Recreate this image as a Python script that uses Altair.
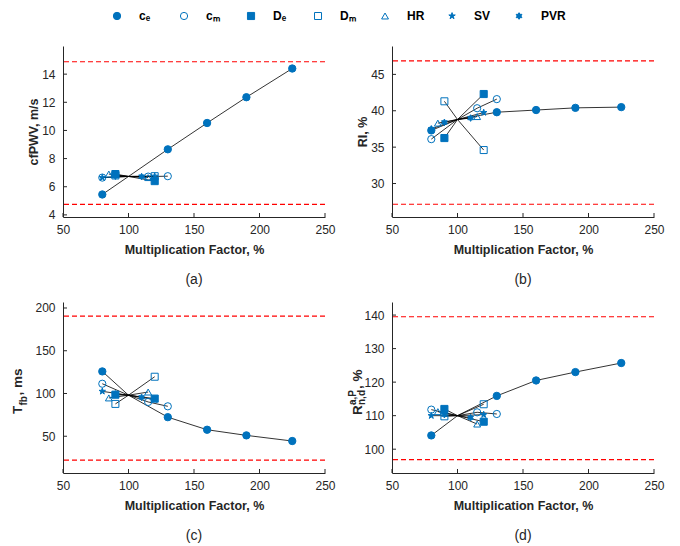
import altair as alt
import pandas as pd

BLUE = "#0072BD"
AX = "#262626"
FONT = "Liberation Sans"

SERIES = ["cₑ", "cₘ", "Dₑ", "Dₘ", "HR", "SV", "PVR"]

# multiplication factors (%) for each parameter
mf_ce = [80, 130, 160, 190, 225]
mf_cm = [80, 115, 130]
mf_De = [90, 120]
mf_Dm = [90, 120]
mf_HR = [85, 115]
mf_SV = [80, 120]
mf_PVR = [90, 110]
MF = [mf_ce, mf_cm, mf_De, mf_Dm, mf_HR, mf_SV, mf_PVR]
BASE_MF = 100

# (a) cfPWV, m/s
cfpwv_base = 6.73
cfpwv = [[5.45, 8.66, 10.53, 12.36, 14.4], [6.65, 6.72, 6.75], [6.9, 6.4],
         [6.8, 6.75], [6.9, 6.65], [6.65, 6.75], [6.75, 6.72]]
# (b) RI, %
ri_base = 38.8
ri = [[37.3, 39.8, 40.1, 40.4, 40.5], [36.1, 40.35, 41.6], [36.25, 42.3],
      [41.3, 34.6], [38.3, 39.2], [37.5, 39.75], [38.4, 39.0]]
# (c) Tfb, ms
tfb_base = 98.0
tfb = [[125.8, 72.3, 57.6, 51.0, 44.4], [111.4, 90.1, 85.0], [98.6, 94.0],
       [87.8, 119.6], [94.8, 101.7], [102.5, 92.8], [99.5, 95.5]]
# (d) R, %
r_base = 110.0
rr = [[104.1, 115.9, 120.5, 123.0, 125.7], [111.8, 111.0, 110.5], [112.0, 108.2],
      [109.8, 113.4], [111.2, 107.5], [110.0, 110.3], [110.3, 109.4]]

# reference limits (red dashed)
lim_a = [4.75, 14.88]
lim_b = [27.15, 46.86]
lim_c = [22.0, 190.5]
lim_d = [96.9, 139.5]

XTICKS = [50, 100, 150, 200, 250]
yt_a = [4, 6, 8, 10, 12, 14]
yt_b = [30, 35, 40, 45]
yt_c = [50, 100, 150, 200]
yt_d = [100, 110, 120, 130, 140]

W, H = 262, 171

STAR = ("M0,-1L0.2245,-0.309L0.951,-0.309L0.363,0.118L0.588,0.809L0,0.382"
        "L-0.588,0.809L-0.363,0.118L-0.951,-0.309L-0.2245,-0.309Z")
HEX = ("M0,-1L0.2887,-0.5L0.866,-0.5L0.577,0L0.866,0.5L0.2887,0.5L0,1"
       "L-0.2887,0.5L-0.866,0.5L-0.577,0L-0.866,-0.5L-0.2887,-0.5Z")

shape_enc = alt.Shape("series:N", scale=alt.Scale(
    domain=SERIES, range=["circle", "circle", "square", "square", "triangle-up", STAR, HEX]),
    legend=None)
fill_enc = alt.Fill("series:N", scale=alt.Scale(
    domain=SERIES, range=[BLUE, "transparent", BLUE, "transparent", "transparent", BLUE, BLUE]),
    legend=None)
stroke_enc = alt.Stroke("series:N", scale=alt.Scale(domain=SERIES, range=[BLUE] * 7),
                        legend=None)
size_enc = alt.Size("series:N", scale=alt.Scale(
    domain=SERIES, range=[54, 44, 38, 32, 46, 75, 36]), legend=None)

one = pd.DataFrame({"k": [0]})


def panel(vals, base, ydom, yticks, lims, caption, ytitle=None, parts=None):
    pts, lns = [], []
    for s, mfs, vs in zip(SERIES, MF, vals):
        for m, v in zip(mfs, vs):
            pts.append({"series": s, "mf": m, "y": v})
            lns.append({"series": s, "mf": m, "y": v})
        lns.append({"series": s, "mf": BASE_MF, "y": base})
    pts = pd.DataFrame(pts)
    lns = pd.DataFrame(lns)

    x_enc = alt.X("mf:Q", scale=alt.Scale(domain=[50, 250], nice=False, zero=False),
                  axis=alt.Axis(values=XTICKS, title="Multiplication Factor, %",
                                labelPadding=7, titlePadding=8, labelFlush=False))
    y_enc = alt.Y("y:Q", scale=alt.Scale(domain=ydom, nice=False, zero=False),
                  axis=alt.Axis(values=yticks, title=ytitle, labelPadding=8, titlePadding=1))

    red = alt.Chart(pd.DataFrame({"y": lims})).mark_rule(
        color="#FF0000", strokeWidth=1.2, strokeDash=[5, 3]).encode(y=y_enc)
    ytk = alt.Chart(pd.DataFrame({"y": yticks})).mark_rule(
        color=AX, strokeWidth=1).encode(y=y_enc, x=alt.value(0), x2=alt.value(4))
    xtk = alt.Chart(pd.DataFrame({"mf": XTICKS})).mark_rule(
        color=AX, strokeWidth=1).encode(x=x_enc, y=alt.value(H), y2=alt.value(H - 4))
    lines = alt.Chart(lns).mark_line(color="black", strokeWidth=0.8).encode(
        x=x_enc, y=y_enc, detail="series:N", order="mf:Q")
    points = alt.Chart(pts).mark_point(opacity=1, strokeWidth=1).encode(
        x=x_enc, y=y_enc, shape=shape_enc, fill=fill_enc, stroke=stroke_enc, size=size_enc)
    cap = alt.Chart(one).mark_text(text=caption, font=FONT, fontSize=14, color=AX,
                                   baseline="middle", align="center").encode(
        x=alt.value(W / 2), y=alt.value(H + 63))
    layers = [red, ytk, xtk, lines, points, cap]
    if parts:
        for (txt, size, ax, ay, dx, dy) in parts:
            layers.append(alt.Chart(one).mark_text(
                text=txt, font=FONT, fontSize=size, fontWeight="bold", color=AX,
                angle=270, align="left", baseline="alphabetic", dx=dx, dy=dy).encode(
                x=alt.value(ax), y=alt.value(ay)))
    return alt.layer(*layers).properties(width=W, height=H)


pa = panel(cfpwv, cfpwv_base, [3.85, 16.0], yt_a, lim_a, "(a)", ytitle="cfPWV, m/s")
pb = panel(ri, ri_base, [25.4, 48.9], yt_b, lim_b, "(b)", ytitle="RI, %")
pc = panel(tfb, tfb_base, [7.0, 207.0], yt_c, lim_c, "(c)", parts=[
    ("T", 13.5, -41, 112, 0, 0),
    ("fb", 10, -41, 112, 8.5, 4.5),
    (", ms", 13.5, -41, 112, 18.5, 0),
])
pd_ = panel(rr, r_base, [92.9, 143.9], yt_d, lim_d, "(d)", parts=[
    ("R", 13.5, -30.5, 113, 0, 0),
    ("a,P", 10, -30.5, 113, 10, -5.5),
    ("n,d", 10, -30.5, 113, 10, 3.5),
    (", %", 13.5, -30.5, 113, 26, 0),
])

# legend row drawn above panel (a): entries evenly spaced on their own index scale
leg = pd.DataFrame({"series": SERIES, "li": list(range(len(SERIES)))})
li_enc = alt.X("li:Q", scale=alt.Scale(domain=[-0.806, 3.104], nice=False, zero=False),
               axis=None)
leg_sym = alt.Chart(leg).mark_point(opacity=1, strokeWidth=1).encode(
    x=li_enc, y=alt.value(-30), shape=shape_enc, fill=fill_enc, stroke=stroke_enc,
    size=size_enc)
leg_txt = alt.Chart(leg).mark_text(font=FONT, fontSize=12, fontWeight="bold",
                                   color="black", align="left", baseline="middle",
                                   dx=22).encode(
    x=li_enc, y=alt.value(-30), text="series:N")
pa_full = alt.layer(pa, leg_sym, leg_txt).resolve_scale(x="independent")

chart = alt.concat(pa_full, pb, pc, pd_, columns=2, spacing={"row": 85, "column": 67},
                   bounds="flush").resolve_scale(
    x="independent", y="independent", shape="shared", fill="shared",
    stroke="shared", size="shared").properties(
    padding={"left": 3, "top": 2, "right": 5, "bottom": 5}).configure_view(
    strokeWidth=0).configure_axis(
    labelFont=FONT, labelFontSize=12, labelColor=AX, titleFont=FONT,
    titleFontSize=12.5, titleFontWeight="bold", titleColor=AX, domainColor=AX,
    domainWidth=1, ticks=False, grid=False)

chart.save("out.html", embed_options={"renderer": "svg", "actions": False})
